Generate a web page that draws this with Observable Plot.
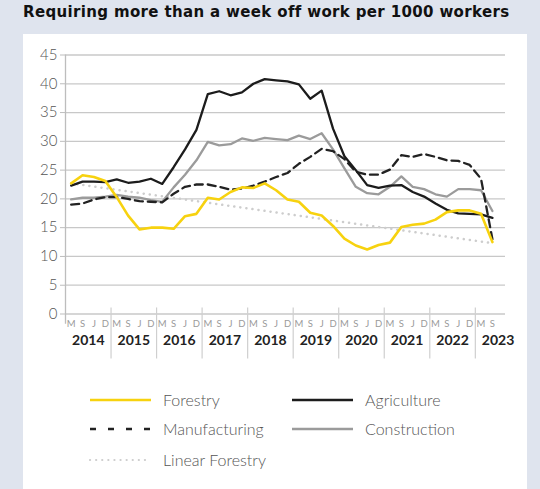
<!DOCTYPE html>
<html>
<head>
<meta charset="utf-8">
<script src="https://cdn.jsdelivr.net/npm/d3@7"></script>
<script src="https://cdn.jsdelivr.net/npm/@observablehq/plot@0.6"></script>
<style>
  html, body { margin: 0; padding: 0; }
  body { width: 540px; height: 489px; background: #dfe4ee; position: relative; overflow: hidden; font-family: Lato, "Open Sans", sans-serif; }
  #title { position: absolute; left: 23px; top: 3px; font-family: "DejaVu Sans", sans-serif; font-weight: bold; font-size: 15px; letter-spacing: 0.35px; line-height: 18px; color: #111; white-space: nowrap; }
  #panel { position: absolute; left: 23px; top: 34px; width: 504px; height: 460px; background: #fff; }
  #chart svg { display: block; }
  #legend { display: block; }
</style>
</head>
<body>
<div id="title">Requiring more than a week off work per 1000 workers</div>
<div id="panel"><div id="chart"></div><div id="legendWrap"></div></div>
<script>
// Quarter tick labels and year labels
const quarterLabels = ["M", "S", "J", "D"];
const years = ["2014", "2015", "2016", "2017", "2018", "2019", "2020", "2021", "2022", "2023"];
const yTicks = [0, 5, 10, 15, 20, 25, 30, 35, 40, 45];

// Series (quarterly, 2014 M through 2023 S)
const forestry = [22.7, 24.1, 23.8, 23.1, 20.3, 17.1, 14.7, 15.0, 15.0, 14.8, 17.0, 17.4,
  20.2, 19.9, 21.2, 22.0, 21.9, 22.7, 21.5, 19.9, 19.5, 17.6, 17.1, 15.3,
  13.1, 11.9, 11.2, 12.0, 12.4, 15.1, 15.5, 15.7, 16.4, 17.7, 18.0, 18.0, 17.4, 12.5];
const agriculture = [22.3, 23.0, 23.0, 22.9, 23.4, 22.8, 23.0, 23.5, 22.6, 25.5, 28.6, 32.0,
  38.2, 38.7, 38.0, 38.5, 40.0, 40.8, 40.6, 40.4, 39.9, 37.4, 38.8, 32.2,
  27.4, 25.0, 22.4, 21.9, 22.3, 22.4, 21.2, 20.4, 19.2, 18.1, 17.5, 17.4, 17.3, 16.7];
const manufacturing = [19.0, 19.2, 19.9, 20.3, 20.3, 20.0, 19.6, 19.5, 19.4, 20.9, 22.1, 22.5,
  22.5, 22.1, 21.6, 21.8, 22.3, 23.0, 23.8, 24.5, 26.1, 27.3, 28.7, 28.3,
  26.9, 24.7, 24.2, 24.2, 25.1, 27.6, 27.3, 27.8, 27.3, 26.7, 26.6, 25.9, 23.5, 13.0];
const construction = [19.9, 20.2, 20.2, 20.4, 20.7, 20.4, 20.2, 19.8, 19.5, 22.0, 24.2, 26.7,
  29.9, 29.3, 29.5, 30.5, 30.1, 30.6, 30.4, 30.2, 31.0, 30.4, 31.4, 28.6,
  25.3, 22.1, 21.0, 20.8, 22.1, 23.9, 22.1, 21.7, 20.8, 20.4, 21.7, 21.7, 21.5, 17.9];
// Linear trend of forestry: value at first and last quarter
const linearForestry = [22.7, 12.3];

const series = (arr) => arr.map((v, i) => ({i, v}));
const lastIdx = forestry.length - 1;
const linearRows = [{i: 0, v: linearForestry[0]}, {i: lastIdx, v: linearForestry[1]}];
const quarterIdx = d3.range(forestry.length);
const separators = d3.range(1, years.length).map(k => 4 * k - 0.5);

const chart = Plot.plot({
  width: 504,
  height: 330,
  marginLeft: 42,
  marginRight: 22,
  marginTop: 20.5,
  marginBottom: 50.5,
  style: {fontFamily: "Lato, 'Open Sans', sans-serif", background: "transparent", overflow: "visible"},
  x: {type: "linear", domain: [-0.5, 38.15]},
  y: {domain: [0, 45]},
  marks: [
    Plot.gridY(yTicks, {stroke: "#c8c8c8", strokeOpacity: 1, strokeWidth: 1.3}),
    Plot.ruleX([-0.5], {y1: -1.8, y2: 45, stroke: "#bdbdbd", strokeWidth: 1.3}),
    Plot.ruleX(separators, {y1: 0, y2: 1.05, stroke: "#cfcfcf", strokeWidth: 1.2}),
    Plot.axisX(separators, {tickSize: 45, tickFormat: () => "", stroke: "#cfcfcf", strokeWidth: 1.2, label: null}),
    Plot.axisX(quarterIdx, {tickSize: 0, tickPadding: 6, tickFormat: i => quarterLabels[i % 4], fontSize: 9.5, color: "#9a9a9a", label: null}),
    Plot.axisY(yTicks, {tickSize: 5, tickPadding: 3, fontSize: 15, fontWeight: 300, stroke: "#bdbdbd", fill: "#555", label: null, style: {letterSpacing: "1.2px"}}),
    Plot.text(years, {x: (d, k) => 4 * k + 1.5, y: 0, dy: 27, text: d => d, fontWeight: "bold", fontSize: 14, fill: "#222"}),
    Plot.line(linearRows, {x: "i", y: "v", stroke: "#cdcdcd", strokeWidth: 2.5, strokeDasharray: "0.1,6", strokeLinecap: "round"}),
    Plot.line(series(construction), {x: "i", y: "v", stroke: "#9b9b9b", strokeWidth: 2.3}),
    Plot.line(series(manufacturing), {x: "i", y: "v", stroke: "#222", strokeWidth: 2.3, strokeDasharray: "8,5"}),
    Plot.line(series(agriculture), {x: "i", y: "v", stroke: "#1c1c1c", strokeWidth: 2.3}),
    Plot.line(series(forestry), {x: "i", y: "v", stroke: "#f7d20f", strokeWidth: 2.6})
  ]
});
document.getElementById("chart").appendChild(chart);

// Legend
const legendItems = [
  {name: "Forestry", col: 0, row: 0, stroke: "#f7d20f", width: 2.6, dash: null},
  {name: "Agriculture", col: 1, row: 0, stroke: "#1c1c1c", width: 2.6, dash: null},
  {name: "Manufacturing", col: 0, row: 1, stroke: "#222", width: 2.6, dash: "6,12"},
  {name: "Construction", col: 1, row: 1, stroke: "#9b9b9b", width: 2.6, dash: null},
  {name: "Linear Forestry", col: 0, row: 2, stroke: "#cdcdcd", width: 2.2, dash: "0.1,6"}
];
const colX = [67, 269];
const rowY = [36, 65, 96];
const svg = d3.select("#legendWrap").append("svg").attr("id", "legend").attr("width", 504).attr("height", 126);
for (const it of legendItems) {
  const x0 = colX[it.col], y0 = rowY[it.row];
  svg.append("line").attr("x1", x0).attr("x2", x0 + 61).attr("y1", y0).attr("y2", y0)
    .attr("stroke", it.stroke).attr("stroke-width", it.width)
    .attr("stroke-dasharray", it.dash).attr("stroke-linecap", it.dash && it.dash.startsWith("0.1") ? "round" : "butt");
  svg.append("text").attr("x", x0 + 73).attr("y", y0).attr("dy", "0.35em")
    .attr("font-family", "Lato, 'Open Sans', sans-serif").attr("font-size", 16).attr("font-weight", 300).attr("fill", "#555")
    .text(it.name);
}
</script>
</body>
</html>
